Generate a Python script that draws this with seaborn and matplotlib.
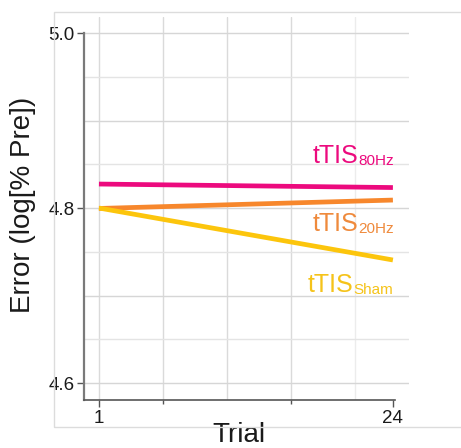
import matplotlib
matplotlib.use("Agg")
import matplotlib.pyplot as plt
from matplotlib.patches import Rectangle
import seaborn as sns
import pandas as pd

# Model-predicted error across trials for each stimulation condition
trials = [1, 24]
err_80hz = [4.8274, 4.8234]
err_20hz = [4.7995, 4.8091]
err_sham = [4.8000, 4.7406]

conditions = ["80Hz", "20Hz", "Sham"]
colors = {"80Hz": "#EC0A7E", "20Hz": "#F7872C", "Sham": "#FCC50C"}
label_colors = {"80Hz": "#EC0A7E", "20Hz": "#EF8A3C", "Sham": "#F5C31A"}
label_y = {"80Hz": 4.8537, "20Hz": 4.7760, "Sham": 4.7063}

y_ticks = [4.6, 4.8, 5.0]
x_ticks = [1, 24]

df = pd.DataFrame({
    "Trial": trials * 3,
    "Error": err_80hz + err_20hz + err_sham,
    "Condition": sum([[c] * len(trials) for c in conditions], []),
})

sns.set_theme(style="white")
fam = ["Liberation Sans", "DejaVu Sans"]
plt.rcParams["font.family"] = fam

fig = plt.figure(figsize=(4.61, 4.48), dpi=100)
ax = fig.add_axes([84 / 461, 1 - 400 / 448, 325 / 461, 383 / 448])

# light outer frame around the panel
fig.patches.append(Rectangle((54 / 461, 1 - 427 / 448), 1.2, 415 / 448,
                             transform=fig.transFigure, fill=False,
                             edgecolor="#dcdcdc", linewidth=1.0, zorder=0))

ax.set_xlim(-0.17, 25.26)
ax.set_ylim(4.5806, 5.0183)

# background grid
for gx in [1, 6, 11, 16, 21]:
    ax.axvline(gx, color="#dadada" if gx < 21 else "#ececec", lw=1.0, zorder=0)
for i, gy in enumerate([4.6, 4.65, 4.7, 4.75, 4.8, 4.85, 4.9, 4.95, 5.0]):
    ax.axhline(gy, color="#d6d6d6" if i % 2 == 0 else "#e4e4e4", lw=1.0, zorder=0)

sns.lineplot(data=df, x="Trial", y="Error", hue="Condition",
             hue_order=conditions, palette=colors, linewidth=3.4,
             legend=False, ax=ax, zorder=3)
for line in ax.get_lines()[-3:]:
    line.set_solid_capstyle("butt")

# right-aligned condition labels with subscripts
for c in conditions:
    sub = ax.text(24.05, label_y[c] - 0.0046, c, ha="right", va="baseline",
                  fontsize=11, color=label_colors[c], family=fam)
    ax.annotate("tTIS", xy=(0, 0), xycoords=sub, xytext=(0, 0),
                textcoords="offset points", ha="right", va="bottom",
                fontsize=18, color=label_colors[c], family=fam,
                annotation_clip=False)

for s in ["top", "right"]:
    ax.spines[s].set_visible(False)
ax.spines["left"].set_bounds(4.5806, 5.0)
ax.spines["left"].set_color("#7a7a7a")
ax.spines["left"].set_linewidth(1.6)
ax.spines["bottom"].set_bounds(-0.17, 24.2)
ax.spines["bottom"].set_color("#555555")
ax.spines["bottom"].set_linewidth(1.2)

ax.set_yticks(y_ticks)
ax.set_yticklabels([f"{v:.1f}" for v in y_ticks])
ax.set_xticks(x_ticks)
ax.set_xticklabels([str(v) for v in x_ticks])
ax.set_xticks([6, 16], minor=True)
ax.tick_params(axis="both", which="major", length=5, width=1.0,
               color="#555555", labelsize=13.5, labelcolor="#1a1a1a", pad=2,
               left=True, bottom=True)
ax.tick_params(axis="x", which="minor", length=3, width=1.0,
               color="#555555", bottom=True)

ax.set_xlabel("Trial", fontsize=20, color="#1a1a1a")
ax.xaxis.set_label_coords(0.477, -0.058)
ax.set_ylabel("Error (log[% Pre])", fontsize=20, color="#1a1a1a")
ax.yaxis.set_label_coords(-0.148, 0.51)

fig.savefig("out.png", dpi=100)
